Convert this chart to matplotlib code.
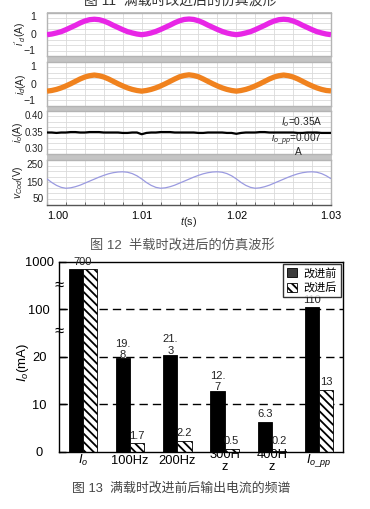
import numpy as np
import matplotlib
matplotlib.use("Agg")
import matplotlib.pyplot as plt
from matplotlib.patches import Rectangle, Patch
from matplotlib.ticker import FixedLocator, MultipleLocator, NullLocator

plt.rcParams["font.family"] = ["Liberation Sans", "Noto Sans CJK SC"]
plt.rcParams["mathtext.fontset"] = "custom"
plt.rcParams["mathtext.rm"] = "Liberation Sans"
plt.rcParams["mathtext.it"] = "Liberation Sans:italic"
plt.rcParams["hatch.linewidth"] = 1.3

# -- colours --
MAGENTA = "#e826e6"
ORANGE  = "#f0821e"
LAVENDER = "#9a9ae0"
GRID    = "#dadada"
FRAME   = "#b4b4b4"

# -- waveform data (sampled every 0.5 ms, 1.000 s .. 1.030 s) --
T_START, T_END, N_SAMPLES = 1.00, 1.03, 61

ID_PRIME = [-0.02, 0.01, 0.06, 0.12, 0.21, 0.31, 0.41, 0.52, 0.61, 0.67,
            0.69, 0.67, 0.61, 0.52, 0.41, 0.31, 0.21, 0.12, 0.06, 0.01,
            -0.02, 0.01, 0.06, 0.13, 0.22, 0.32, 0.42, 0.53, 0.62, 0.68,
            0.70, 0.68, 0.62, 0.53, 0.42, 0.32, 0.22, 0.13, 0.06, 0.01,
            -0.02, 0.01, 0.06, 0.12, 0.21, 0.31, 0.41, 0.52, 0.61, 0.67,
            0.69, 0.67, 0.61, 0.52, 0.41, 0.31, 0.21, 0.12, 0.06, 0.01, -0.02]

ID = [-0.34, -0.31, -0.26, -0.19, -0.10, 0.00, 0.11, 0.22, 0.31, 0.37,
      0.40, 0.37, 0.31, 0.22, 0.11, 0.00, -0.10, -0.19, -0.26, -0.31,
      -0.34, -0.31, -0.26, -0.19, -0.10, 0.00, 0.11, 0.22, 0.32, 0.38,
      0.41, 0.38, 0.32, 0.22, 0.11, 0.00, -0.10, -0.19, -0.26, -0.31,
      -0.34, -0.31, -0.26, -0.19, -0.10, 0.00, 0.11, 0.22, 0.31, 0.37,
      0.40, 0.37, 0.31, 0.22, 0.11, 0.00, -0.10, -0.19, -0.26, -0.31, -0.33]

IO = [0.350, 0.350, 0.349, 0.350, 0.350, 0.351, 0.351, 0.350, 0.350, 0.351,
      0.351, 0.351, 0.350, 0.350, 0.350, 0.350, 0.349, 0.349, 0.350, 0.350,
      0.346, 0.349, 0.350, 0.350, 0.351, 0.351, 0.351, 0.350, 0.350, 0.350,
      0.350, 0.350, 0.349, 0.349, 0.350, 0.350, 0.350, 0.350, 0.349, 0.349,
      0.347, 0.349, 0.350, 0.350, 0.350, 0.351, 0.351, 0.350, 0.350, 0.350,
      0.350, 0.350, 0.350, 0.349, 0.349, 0.350, 0.350, 0.350, 0.349, 0.349, 0.349]

VCOD = [165, 149, 136, 127, 123, 125, 130, 137, 146, 155,
        164, 173, 181, 188, 193, 196, 197, 195, 189, 179,
        165, 149, 136, 127, 123, 125, 130, 137, 146, 155,
        164, 173, 181, 188, 193, 196, 197, 195, 189, 179,
        165, 149, 136, 127, 123, 125, 130, 137, 146, 155,
        164, 173, 181, 188, 193, 196, 197, 195, 189, 179, 166]

# -- spectrum data (mA) --
CATEGORIES   = ["$I_o$", "100Hz", "200Hz", "300H\nz", "400H\nz", r"$I_{o\_pp}$"]
BEFORE       = [700, 19.8, 21.3, 12.7, 6.3, 110]
AFTER        = [700, 1.7, 2.2, 0.5, 0.2, 13]
BEFORE_TEXT  = ["", "19.\n8", "21.\n3", "12.\n7", "6.3", "110"]
AFTER_TEXT   = ["", "1.7", "2.2", "0.5", "0.2", "13"]
LEGEND_NAMES = ["改进前", "改进后"]
Y_TICKS      = [0, 10, 20, 100, 1000]

W, H = 370, 509
fig = plt.figure(figsize=(W / 100, H / 100), dpi=100, facecolor="white")


def fx(px):
    return px / W


def fy(py):
    return 1 - py / H


# -- top figure: four stacked panels on a grey frame --
frame = fig.add_axes([fx(46.5), fy(160), fx(285), fy(11.5) - fy(160)], zorder=-5)
frame.set_axis_off()
frame.add_patch(Rectangle((0, 0), 1, 1, transform=frame.transAxes,
                          facecolor="#c4c4c4", edgecolor="none"))

# top, bottom (px), series, colour, lw, ylim, labelled ticks, grid step, ylabel, fmt,
# tick label size, tick pad, ylabel x
panels = [
    (12.5, 56, ID_PRIME, MAGENTA, 3.8, (-1, 1), [-1, 0, 1], 0.25, r"$i'_d$(A)", "{:g}", 7.6, 8, -0.067),
    (62, 105.5, ID, ORANGE, 3.8, (-1, 1), [-1, 0, 1], 0.25, r"$i_d$(A)", "{:g}", 7.6, 8, -0.067),
    (111, 154, IO, "black", 1.6, (0.30, 0.40), [0.30, 0.35, 0.40], 0.0125, r"$i_o$(A)", "{:.2f}", 6.9, 2.5, -0.078),
    (160, 204.5, VCOD, LAVENDER, 0.9, (50, 250), [50, 150, 250], 25, r"$v_{Cod}$(V)", "{:g}", 7.2, 2.5, -0.078),
]

t = np.linspace(T_START, T_END, N_SAMPLES)
top_axes = []
for k, (top, bot, series, color, lw, ylim, yt, ystep, ylab, fmt, lsize, pad, labx) in enumerate(panels):
    ax = fig.add_axes([fx(47), fy(bot), fx(284), fy(top) - fy(bot)])
    ax.set_facecolor("white")
    ax.plot(t, series, color=color, linewidth=lw, solid_capstyle="butt", zorder=3)
    ax.set_xlim(T_START, T_END)
    ax.set_ylim(*ylim)
    ax.xaxis.set_major_locator(MultipleLocator(0.01))
    ax.xaxis.set_minor_locator(MultipleLocator(0.002))
    ax.yaxis.set_major_locator(FixedLocator(yt))
    ax.yaxis.set_minor_locator(MultipleLocator(ystep))
    ax.grid(which="both", color=GRID, linewidth=0.6, zorder=0)
    ax.set_yticklabels([fmt.format(v).replace("-", "\u2212") for v in yt])
    ax.tick_params(axis="y", which="both", length=0, labelsize=lsize, pad=pad, colors="#222222")
    ylabels = ax.get_yticklabels()
    ylabels[0].set_va("bottom")
    ylabels[-1].set_va("top")
    for spine in ax.spines.values():
        spine.set_edgecolor(FRAME)
        spine.set_linewidth(1.0)
    ax.set_ylabel(ylab, fontsize=7.4, color="#222222")
    ax.yaxis.set_label_coords(labx, 0.5)
    if k < 3:
        ax.tick_params(axis="x", which="both", length=0, labelbottom=False)
    else:
        ax.spines["bottom"].set_edgecolor("#555555")
        ax.tick_params(axis="x", which="both", direction="in", length=2.5,
                       color="#555555", labelsize=7.8, pad=5)
        ax.set_xticks([1.00, 1.01, 1.02, 1.03])
        ax.set_xticklabels(["1.00", "1.01", "1.02", "1.03"])
        ax.get_xticklabels()[0].set_ha("left")
    top_axes.append(ax)

top_axes[2].text(0.97, 0.75, "$I_o$=0.35A", transform=top_axes[2].transAxes,
                 ha="right", va="center", fontsize=7.3, color="#222222")
top_axes[2].text(0.97, 0.33, r"$i_{o\_pp}$=0.007", transform=top_axes[2].transAxes,
                 ha="right", va="center", fontsize=7.3, color="#222222")
top_axes[2].text(0.885, 0.05, "A", transform=top_axes[2].transAxes,
                 ha="center", va="center", fontsize=7.3, color="#222222")

fig.text(fx(189), fy(222), "$t$(s)", ha="center", va="center", fontsize=7.8, color="#222222")

# -- captions --
fig.text(fx(180), fy(0.5), "图 11  满载时改进后的仿真波形", ha="center", va="center",
         fontsize=10, color="#333333")
fig.text(fx(182), fy(246), "图 12  半载时改进后的仿真波形", ha="center", va="center",
         fontsize=9.5, color="#555555")
fig.text(fx(181), fy(488), "图 13  满载时改进前后输出电流的频谱", ha="center", va="center",
         fontsize=9.3, color="#444444")


# -- bar chart with broken y axis --
def fwd(v):
    v = np.asarray(v, dtype=float)
    out = v / 10.0
    mid = 2 + np.log10(np.clip(v, 20, 100) / 20) / np.log10(5)
    hi = 3 + np.log10(np.clip(v, 100, None) / 100)
    out = np.where(v > 20, mid, out)
    out = np.where(v > 100, hi, out)
    return out


def inv(u):
    u = np.asarray(u, dtype=float)
    out = u * 10.0
    mid = 20 * 5 ** (np.clip(u, 2, 3) - 2)
    hi = 100 * 10 ** (np.clip(u, 3, 8) - 3)
    out = np.where(u > 2, mid, out)
    out = np.where(u > 3, hi, out)
    return out


ax = fig.add_axes([fx(59.3), fy(451.5), fx(283.4), fy(262) - fy(451.5)])
ax.set_yscale("function", functions=(fwd, inv))
ax.set_ylim(0, 1000)
ax.set_xlim(-0.5, len(CATEGORIES) - 0.5)
ax.set_axisbelow(True)

x = np.arange(len(CATEGORIES))
bw = 0.30
ax.bar(x - bw / 2, BEFORE, width=bw, color="black", edgecolor="black", linewidth=0.6, zorder=2)
ax.bar(x + bw / 2, AFTER, width=bw, color="white", edgecolor="black", linewidth=0.6,
       hatch="\\\\\\\\", zorder=2)

for v in [10, 20, 100]:
    ax.axhline(v, color="black", linewidth=1.0, linestyle=(0, (6, 3.6)), zorder=1)

lab_kw = dict(textcoords="offset points", ha="center", va="bottom", fontsize=8,
              color="#222222", linespacing=1.15)
ax.annotate("700", xy=(x[0], BEFORE[0]), xytext=(0, 2), **lab_kw)
offs_before = [0, -1.5, -0.5, -0.5, 2, 2]
offs_after = [0, 1.5, 2, 2, 3, 2]
for i in range(1, len(CATEGORIES)):
    ax.annotate(BEFORE_TEXT[i], xy=(x[i] - bw / 2, BEFORE[i]), xytext=(0, offs_before[i]), **lab_kw)
    ax.annotate(AFTER_TEXT[i], xy=(x[i] + bw / 2, AFTER[i]), xytext=(0, offs_after[i]), **lab_kw)

ax.yaxis.set_major_locator(FixedLocator(Y_TICKS))
ax.yaxis.set_minor_locator(NullLocator())
ax.set_yticklabels([str(v) for v in Y_TICKS])
ax.tick_params(axis="y", direction="in", length=5, width=1, labelsize=9.3, pad=14.5, colors="black")
for lab in ax.get_yticklabels():
    lab.set_ha("center")
ax.set_xticks(x)
ax.set_xticklabels(CATEGORIES)
ax.tick_params(axis="x", length=0, labelsize=9.3, pad=6.8)
for lab in ax.get_xticklabels():
    lab.set_va("center")
    lab.set_linespacing(0.95)
for spine in ax.spines.values():
    spine.set_edgecolor("black")
    spine.set_linewidth(1.0)

for yb in [0.878, 0.635]:
    ax.text(0.0, yb, "≈", transform=ax.transAxes, ha="center", va="center",
            fontsize=12, color="black")

ax.set_ylabel("$I_o$(mA)", fontsize=9.5)
ax.yaxis.set_label_coords(-0.10, 0.47)

handles = [Patch(facecolor="#3c3c3c", edgecolor="black", linewidth=0.6),
           Patch(facecolor="white", edgecolor="black", linewidth=0.6, hatch="\\\\\\\\")]
leg = ax.legend(handles, LEGEND_NAMES, loc="upper right", bbox_to_anchor=(0.994, 0.992),
                borderaxespad=0, fontsize=8, frameon=True, fancybox=False,
                handlelength=0.9, handleheight=0.9, handletextpad=0.6,
                borderpad=0.35, labelspacing=0.35)
leg.get_frame().set_edgecolor("black")
leg.get_frame().set_linewidth(1.0)

fig.savefig("out.png", dpi=100, facecolor="white")
